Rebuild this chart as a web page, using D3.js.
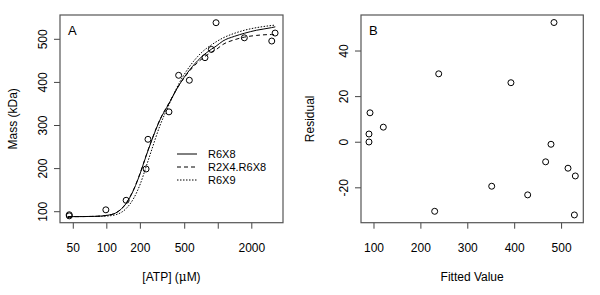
<!DOCTYPE html>
<html>
<head>
<meta charset="utf-8">
<script src="https://cdn.jsdelivr.net/npm/d3@7"></script>
<style>
  body { margin: 0; background: #fff; }
  svg { display: block; font-family: "Liberation Sans", Arial, sans-serif; }
  .lbl { font-size: 12px; fill: #000; }
  .leg { font-size: 11px; fill: #000; }
</style>
</head>
<body>
<svg id="chart" width="600" height="295"></svg>
<script>
// observed points, panel A
let atp = [46, 46, 98, 149, 225, 234, 361, 441, 550, 760, 867, 955, 1714, 3020, 3235];
let mass = [92.9, 90.4, 104.4, 126.5, 199.1, 268, 331.7, 416.5, 405, 457.4, 476.6, 538.5, 503.5, 496, 514.5];

// fitted curves
let curveAtp = [45, 60, 80, 100, 120, 150, 175, 200, 225, 250, 300, 361, 441, 550, 700, 867, 955, 1100, 1400, 1714, 2200, 3000, 3250];
let fitR6X8 = [88.5, 88.7, 89.3, 91.5, 97, 120, 152, 190, 229, 262, 313, 351, 392, 428, 458, 477, 484, 496, 507, 514, 521, 527, 529];
let fitR2X4 = [88.5, 88.7, 89.3, 91.5, 97, 121, 153, 191, 230, 263, 314, 352, 392, 426, 453, 470, 476, 488, 499, 505, 509, 511, 511];
let fitR6X9 = [88.8, 88.8, 89.2, 90, 93, 108, 132, 165, 204, 240, 300, 348, 396, 436, 468, 487, 494, 503, 514, 521, 527, 532, 533];

let seriesNames = ['R6X8', 'R2X4.R6X8', 'R6X9'];
let seriesDash = ['none', '4,3', '1.5,1.5'];

// residuals, panel B
let fitted = [89.3, 89.3, 91.5, 119.9, 229.4, 238, 351, 392, 427.7, 466, 477.4, 483.8, 513.7, 527.3, 529.3];
let resid = [3.6, 0.1, 12.9, 6.6, -30.3, 30, -19.3, 26.1, -23.1, -8.6, -0.9, 52.5, -11.4, -31.9, -14.8];

let xTicksA = [50, 100, 200, 500, 1000, 2000];
let xLabelsA = [50, 100, 200, 500, 2000];
let yTicksA = [100, 200, 300, 400, 500];
let xTicksB = [100, 200, 300, 400, 500];
let yTicksB = [-20, 0, 20, 40];

let svg = d3.select('#chart');
let boxTop = 15, boxBottom = 222.7;

function panel(left, right, x, y, xt, xl, yt, xTitle, yTitle, yTitleX, tag) {
  let g = svg.append('g');
  // ticks
  g.selectAll('.xt').data(xt).enter().append('line')
    .attr('x1', d => x(d)).attr('x2', d => x(d))
    .attr('y1', boxBottom).attr('y2', boxBottom + 6)
    .attr('stroke', '#444');
  g.selectAll('.xl').data(xl).enter().append('text')
    .attr('class', 'lbl')
    .attr('x', d => x(d)).attr('y', boxBottom + 29)
    .attr('text-anchor', 'middle')
    .text(d => d);
  g.selectAll('.yt').data(yt).enter().append('line')
    .attr('x1', left - 6).attr('x2', left)
    .attr('y1', d => y(d)).attr('y2', d => y(d))
    .attr('stroke', '#444');
  g.selectAll('.yl').data(yt).enter().append('text')
    .attr('class', 'lbl')
    .attr('transform', d => 'translate(' + (left - 13) + ',' + y(d) + ') rotate(-90)')
    .attr('text-anchor', 'middle')
    .text(d => d);
  g.append('rect')
    .attr('x', left).attr('y', boxTop)
    .attr('width', right - left).attr('height', boxBottom - boxTop)
    .attr('fill', 'none').attr('stroke', '#555').attr('stroke-width', 1.2);
  if (xTitle) {
    g.append('text').attr('class', 'lbl')
      .attr('x', (left + right) / 2).attr('y', 281)
      .attr('text-anchor', 'middle').text(xTitle);
  }
  g.append('text').attr('class', 'lbl')
    .attr('transform', 'translate(' + yTitleX + ',' + (boxTop + boxBottom) / 2 + ') rotate(-90)')
    .attr('text-anchor', 'middle').text(yTitle);
  g.append('text').attr('class', 'lbl')
    .attr('x', left + 8).attr('y', 35)
    .style('font-size', '13px').text(tag);
  return g;
}

// Panel A
let xA = d3.scaleLog().domain([38, 3810]).range([60, 283]);
let yA = d3.scaleLinear().domain([74.5, 556.4]).range([boxBottom, boxTop]);
let gA = panel(60, 283, xA, yA, xTicksA, xLabelsA, yTicksA, null, 'Mass (kDa)', 17, 'A');

let xTitleA = gA.append('text').attr('class', 'lbl')
  .attr('x', 171.5).attr('y', 281).attr('text-anchor', 'middle');
xTitleA.append('tspan').text('[ATP] (');
xTitleA.append('tspan').style('font-family', '"DejaVu Serif", serif').text('\u03bc');
xTitleA.append('tspan').text('M)');

let fits = [fitR6X8, fitR2X4, fitR6X9];
let line = d3.line()
  .x((d, i) => xA(curveAtp[i]))
  .y(d => yA(d))
  .curve(d3.curveMonotoneX);
fits.forEach((f, k) => {
  gA.append('path').datum(f)
    .attr('d', line)
    .attr('fill', 'none').attr('stroke', '#000').attr('stroke-width', 1)
    .attr('stroke-dasharray', seriesDash[k]);
});

gA.selectAll('.pt').data(atp).enter().append('circle')
  .attr('cx', d => xA(d)).attr('cy', (d, i) => yA(mass[i]))
  .attr('r', 3).attr('fill', 'none').attr('stroke', '#000');

// legend
seriesNames.forEach((s, k) => {
  let ly = 154 + k * 13;
  gA.append('line').attr('x1', 177).attr('x2', 197).attr('y1', ly).attr('y2', ly)
    .attr('stroke', '#000').attr('stroke-dasharray', seriesDash[k]);
  gA.append('text').attr('class', 'leg').attr('x', 208).attr('y', ly + 4).text(s);
});

// Panel B
let xB = d3.scaleLinear().domain([72.3, 546.3]).range([361, 583.3]);
let yB = d3.scaleLinear().domain([-35.3, 55.8]).range([boxBottom, boxTop]);
let gB = panel(361, 583.3, xB, yB, xTicksB, xTicksB, yTicksB, 'Fitted Value', 'Residual', 314, 'B');

gB.selectAll('.pt').data(fitted).enter().append('circle')
  .attr('cx', d => xB(d)).attr('cy', (d, i) => yB(resid[i]))
  .attr('r', 3).attr('fill', 'none').attr('stroke', '#000');
</script>
</body>
</html>
